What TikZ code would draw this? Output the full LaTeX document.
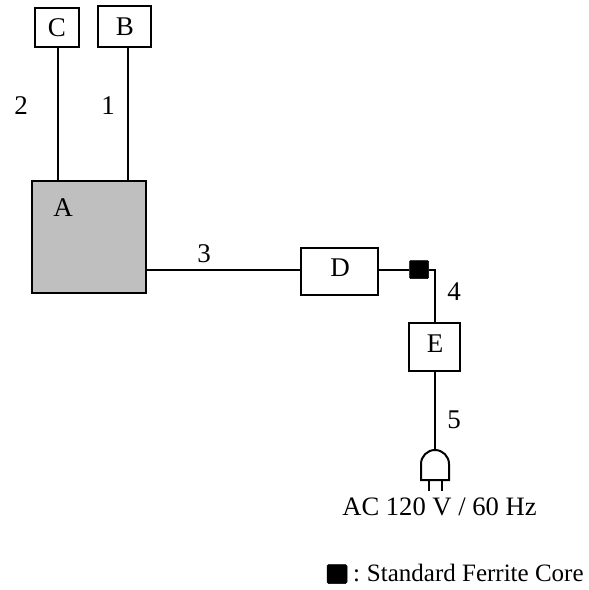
\documentclass[tikz,border=0pt]{standalone}
\usepackage{fontspec}
\setmainfont{Liberation Serif}
\tikzset{
  box/.style={draw=black,line width=2pt,fill=white,inner sep=0pt,anchor=north west},
  wire/.style={draw=black,line width=2pt},
  lbl/.style={inner sep=0pt,font=\fontsize{27}{30}\selectfont,text=black},
  small/.style={inner sep=0pt,font=\fontsize{25}{29}\selectfont,text=black},
  acl/.style={inner sep=0pt,font=\fontsize{26.6}{30}\selectfont,text=black}
}
\begin{document}
\begin{tikzpicture}[x=1pt,y=-1pt]
\useasboundingbox[fill=white] (0,0) rectangle (589,590);
\node[box,minimum width=44pt,minimum height=39pt] (C) at (34,7) {};
\node[box,minimum width=53pt,minimum height=41pt] (B) at (97,5) {};
\node[box,fill=black!25,minimum width=114pt,minimum height=112pt] (A) at (31,180) {};
\node[box,minimum width=77pt,minimum height=47pt] (D) at (300,247) {};
\node[box,minimum width=51pt,minimum height=48pt] (E) at (408,322) {};
\node[draw=black,fill=black,rounded corners=1pt,line width=.5pt,inner sep=0pt,minimum width=19pt,minimum height=18pt] (core) at (419,269.5) {};
\node[draw=black,fill=black,rounded corners=1.5pt,line width=.5pt,inner sep=0pt,minimum width=20pt,minimum height=19pt] (legend) at (337,574) {};
\node[lbl] at (57,28) {C};
\node[lbl] at (125,27) {B};
\node[lbl] at (63,208) {A};
\node[lbl] at (340,268) {D};
\node[lbl] at (435,344) {E};
\node[lbl] at (21,106) {2};
\node[lbl] at (108,106) {1};
\node[lbl] at (204,254) {3};
\node[lbl] at (454,292) {4};
\node[lbl] at (454,420) {5};
\node[acl] at (439.5,507) {AC 120 V / 60 Hz};
\node[small,anchor=west] at (353,573) {:\kern-1.5pt{} Standard Ferrite Core};
\coordinate (plugtop) at (435,450);
\coordinate (bend) at (435,269.5);
\draw[wire] (C.south -| 58,0) -- (A.north -| 58,0);
\draw[wire] (B.south -| 128,0) -- (A.north -| 128,0);
\draw[wire] (A.east |- 0,270) -- (D.west |- 0,270);
\draw[wire] (D.east |- 0,270) -- (core.west |- 0,270);
\draw[wire] (core.east) -- (bend) -- (E.north -| bend);
\draw[wire] (E.south -| bend) -- (plugtop);
\draw[wire] (421,480) -- (421,464) arc[start angle=180,end angle=360,radius=14] -- (449,480) -- cycle;
\draw[wire] (429,480) -- (429,491);
\draw[wire] (442,480) -- (442,491);
\end{tikzpicture}
\end{document}
